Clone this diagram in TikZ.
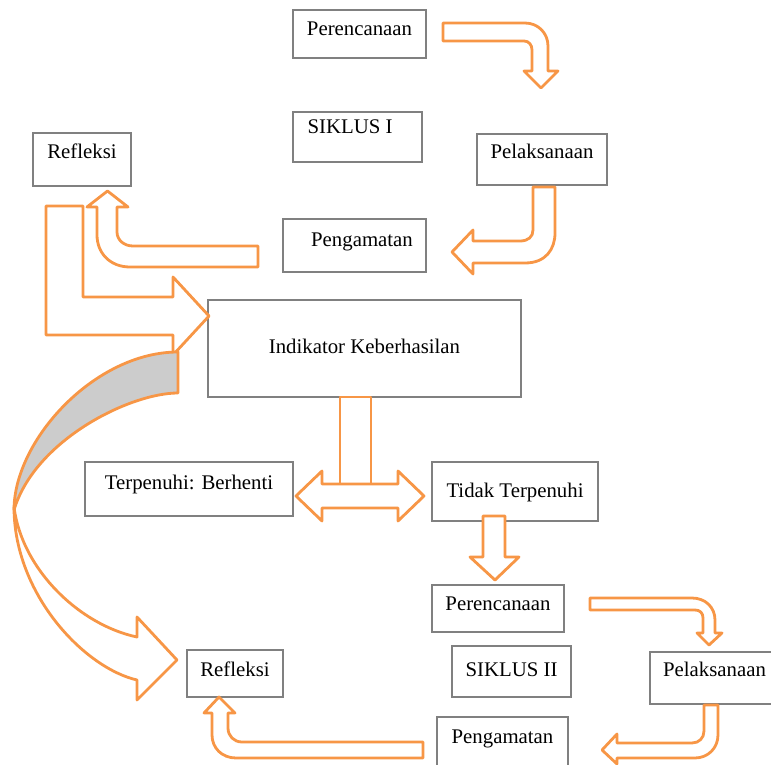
\documentclass[tikz,border=0pt]{standalone}
\usepackage{fontspec}
\setmainfont{Liberation Serif}
\newcommand\teks{\fontsize{20.8}{25}\selectfont}
\definecolor{oranye}{RGB}{247,150,70}
\definecolor{garis}{RGB}{128,128,128}
\definecolor{abu}{RGB}{204,204,204}
\tikzset{
  kotak/.style={draw=garis, line width=1.4pt, fill=white, inner sep=0pt,
    font=\teks, text height=15pt, text depth=#1},
  kotak/.default=11pt,
  panah/.style={draw=oranye, line width=2.8pt, fill=white, line join=round},
  panahabu/.style={panah, fill=abu}
}
\begin{document}
\begin{tikzpicture}[x=1pt,y=-1pt]
  \useasboundingbox (0,0) rectangle (771,765);
  % siklus I
  \node[kotak,      minimum width=133, minimum height=48] (pr1) at (359.5,34)    {Perencanaan};
  \node[kotak=21pt, minimum width=129, minimum height=50] (sk1) at (357.5,137)   {SIKLUS I\hspace*{15pt}};
  \node[kotak=16pt, minimum width=98,  minimum height=53] (rf1) at (82,159.5)    {Refleksi};
  \node[kotak=16pt, minimum width=130, minimum height=51] (pl1) at (542,159.5)   {Pelaksanaan};
  \node[kotak=14pt, minimum width=143, minimum height=53] (pg1) at (354.5,245.5) {\hspace*{15pt}Pengamatan};
  \node[kotak=6pt,  minimum width=313, minimum height=97] (ind) at (364.5,348.5) {Indikator Keberhasilan};
  \node[kotak=15pt, minimum width=208, minimum height=54] (brh) at (189,489)     {Terpenuhi: Berhenti};
  \node[kotak=3pt,  minimum width=166, minimum height=59] (tdk) at (515,491.5)   {Tidak Terpenuhi};
  % siklus II
  \node[kotak=12pt, minimum width=132, minimum height=47] (pr2) at (498,608.5)   {Perencanaan};
  \node[kotak=6pt,  minimum width=119, minimum height=51] (sk2) at (511.5,671.5) {SIKLUS II};
  \node[kotak=19pt, minimum width=129, minimum height=52] (pl2) at (714.5,678)   {Pelaksanaan};
  \node[kotak=10pt, minimum width=96,  minimum height=47] (rf2) at (235,673.5)   {Refleksi};
  \node[kotak=16pt, minimum width=131, minimum height=53] (pg2) at (502.5,743.5) {Pengamatan};

  % panah siklus I
  \draw[panah] (443,23) -- (525,23) .. controls (538,23) and (548,33) .. (548,46)
    -- (548,71) -- (558,71) -- (541,88) -- (524,71) -- (532,71) -- (532,50)
    .. controls (532,45) and (529,41) .. (524,41) -- (443,41) -- cycle;
  \draw[panah] (533,187) -- (555,187) -- (555,233) .. controls (555,249) and (546,263) .. (525,263)
    -- (473,263) -- (473,274) -- (452,252) -- (473,230) -- (473,241) -- (520,241)
    .. controls (528,241) and (533,237) .. (533,230) -- cycle;
  \draw[panah] (258,246) -- (133,246) .. controls (124,246) and (117,240) .. (117,232)
    -- (117,207) -- (128,207) -- (107.5,191) -- (87,207) -- (97,207) -- (97,235)
    .. controls (97,253) and (110,267) .. (130,267) -- (258,267) -- cycle;
  \draw[panah] (46,206) -- (83,206) -- (83,297) -- (173,297) -- (173,277) -- (209,316)
    -- (173,355) -- (173,335) -- (46,335) -- cycle;

  % panah lengkung ke siklus II
  \draw[panahabu] (178,352) -- (178,393) .. controls (130,393) and (35,440) .. (14,510)
    .. controls (14,440) and (95,352) .. (178,352) -- cycle;
  \draw[panah] (14,507) .. controls (14,595) and (85,668) .. (137,680) -- (137,700)
    -- (177,660) -- (137,617) -- (137,637) .. controls (80,625) and (22,570) .. (14,507) -- cycle;

  % indikator
  \draw[panah] (340,397) rectangle (371,484);
  \draw[panah] (296,496) -- (322,471) -- (322,484) -- (398,484) -- (398,471) -- (424,496)
    -- (398,521) -- (398,508) -- (322,508) -- (322,521) -- cycle;
  \draw[panah] (483,516) -- (505,516) -- (505,557) -- (519,557) -- (495,580) -- (470,557)
    -- (483,557) -- cycle;

  % panah siklus II
  \draw[panah] (590,598) -- (692,598) .. controls (705,598) and (715,607) .. (715,620)
    -- (715,633) -- (722,633) -- (709,645) -- (697,633) -- (703,633) -- (703,618)
    .. controls (703,613) and (700,610) .. (695,610) -- (590,610) -- cycle;
  \draw[panah] (704,705) -- (718,705) -- (718,735) .. controls (718,748) and (708,758) .. (695,758)
    -- (617,758) -- (617,764) -- (602,750) -- (617,734) -- (617,743) -- (692,743)
    .. controls (699,743) and (704,738) .. (704,731) -- cycle;
  \draw[panah] (423,742) -- (242,742) .. controls (234,742) and (228,736) .. (228,728)
    -- (228,713) -- (235,713) -- (219,697) -- (204,713) -- (212,713) -- (212,735)
    .. controls (212,748) and (222,758) .. (236,758) -- (423,758) -- cycle;
\end{tikzpicture}
\end{document}
